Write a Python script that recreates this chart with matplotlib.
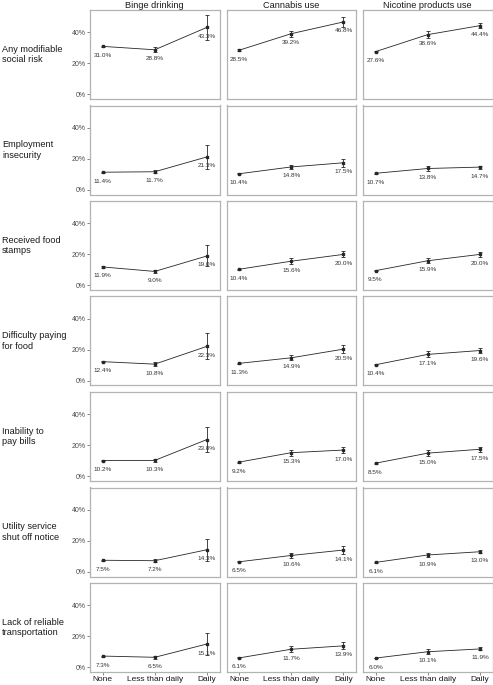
import numpy as np
import matplotlib.pyplot as plt

plt.rcParams['font.family'] = ['Liberation Sans', 'DejaVu Sans']

# categories
groups = ["None", "Less than daily", "Daily"]
substances = ["Binge drinking", "Cannabis use", "Nicotine products use"]
risks = ["Any modifiable\nsocial risk", "Employment\ninsecurity",
         "Received food\nstamps", "Difficulty paying\nfor food",
         "Inability to\npay bills", "Utility service\nshut off notice",
         "Lack of reliable\ntransportation"]

# prevalence (%) per risk row: None, Less than daily, Daily
binge = [[31.0, 28.8, 43.3], [11.4, 11.7, 21.3], [11.9, 9.0, 19.0],
         [12.4, 10.8, 22.3], [10.2, 10.3, 23.8], [7.5, 7.2, 14.3],
         [7.3, 6.5, 15.1]]
cannabis = [[28.5, 39.2, 46.8], [10.4, 14.8, 17.5], [10.4, 15.6, 20.0],
            [11.3, 14.9, 20.5], [9.2, 15.3, 17.0], [6.5, 10.6, 14.1],
            [6.1, 11.7, 13.9]]
nicotine = [[27.6, 38.6, 44.4], [10.7, 13.8, 14.7], [9.5, 15.9, 20.0],
            [10.4, 17.1, 19.6], [8.5, 15.0, 17.5], [6.1, 10.9, 13.0],
            [6.0, 10.1, 11.9]]

# half-width of the error bars (%)
binge_err = [[0.5, 1.5, 8.0], [0.4, 1.0, 7.7], [0.4, 1.0, 6.8],
             [0.4, 1.5, 8.3], [0.4, 1.0, 7.8], [0.3, 1.0, 7.0],
             [0.3, 1.0, 6.8]]
cannabis_err = [[0.5, 2.0, 3.0], [0.3, 1.5, 2.5], [0.3, 2.0, 2.0],
                [0.3, 1.5, 2.5], [0.3, 2.0, 2.0], [0.3, 1.5, 2.5],
                [0.3, 2.0, 2.3]]
nicotine_err = [[0.4, 2.5, 1.5], [0.3, 1.5, 1.0], [0.3, 1.5, 1.5],
                [0.3, 2.0, 1.5], [0.3, 2.0, 1.5], [0.2, 1.5, 1.0],
                [0.2, 1.5, 1.0]]

values = [binge, cannabis, nicotine]
errors = [binge_err, cannabis_err, nicotine_err]

W, H = 493, 685
fig = plt.figure(figsize=(W / 100, H / 100), dpi=100)

x = np.arange(len(groups))
left0, col_pitch, pw = 90, 136.5, 129.5
top0, row_pitch, ph = 10, 95.5, 89

for r, risk in enumerate(risks):
    for c, sub in enumerate(substances):
        left = left0 + c * col_pitch
        top = top0 + r * row_pitch
        ax = fig.add_axes([left / W, 1 - (top + ph) / H, pw / W, ph / H])
        y = np.array(values[c][r])
        e = np.array(errors[c][r])
        ax.errorbar(x, y, yerr=e, color='#262626', lw=0.6, elinewidth=0.6,
                    capsize=1.2, capthick=0.6, marker='s', ms=1.6)
        for xi, yi in zip(x, y):
            ax.annotate(f"{yi:.1f}%", (xi, yi), xytext=(0, -6.5),
                        textcoords='offset points', ha='center', va='center',
                        fontsize=4.6, color='#333333')
        ax.set_xlim(-0.24, 2.24)
        ax.set_ylim(-3, 54.5)
        ax.set_yticks([0, 20, 40])
        ax.set_xticks(x)
        for s in ax.spines.values():
            s.set_color('#b3b3b3')
            s.set_linewidth(0.9)
        ax.tick_params(length=2, width=0.5, color='#555555', pad=1)
        if c == 0:
            ax.set_yticklabels(["0%", "20%", "40%"], fontsize=5, color='#4d4d4d')
            ax.text(-88 / pw, 0.5, risk, transform=ax.transAxes, ha='left',
                    va='center', fontsize=6.6, color='#1a1a1a', linespacing=1.15)
        else:
            ax.tick_params(axis='y', left=False, labelleft=False)
        if r == len(risks) - 1:
            ax.set_xticklabels(groups, fontsize=6, color='#1a1a1a')
        else:
            ax.tick_params(axis='x', bottom=False, labelbottom=False)
        if r == 0:
            ax.set_title(sub, fontsize=6.6, color='#1a1a1a', pad=1.5)

fig.savefig("out.png", dpi=100)
